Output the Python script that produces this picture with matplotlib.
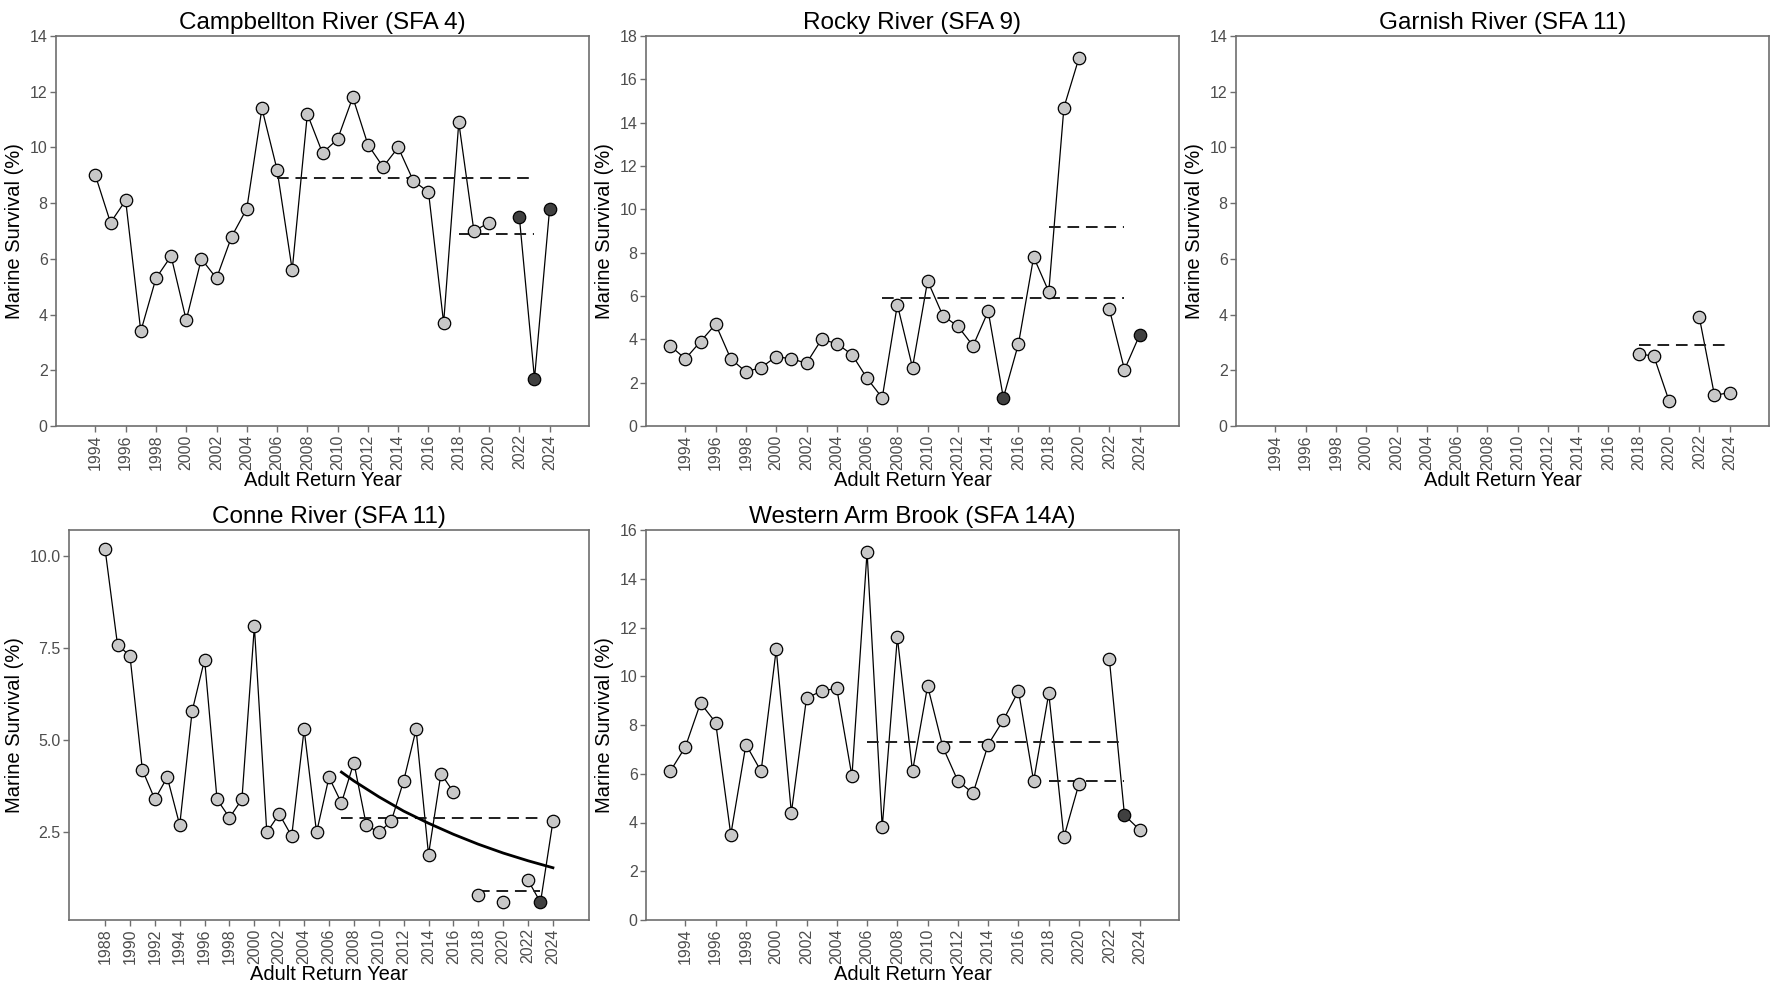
import numpy as np
import matplotlib
matplotlib.use("Agg")
import matplotlib.pyplot as plt

plt.rcParams['font.family'] = ['Liberation Sans', 'DejaVu Sans']

nan = np.nan

# Campbellton River (SFA 4)
camp_years = list(range(1994, 2025))
camp_surv = [9.0, 7.3, 8.1, 3.4, 5.3, 6.1, 3.8, 6.0, 5.3, 6.8, 7.8, 11.4, 9.2, 5.6,
             11.2, 9.8, 10.3, 11.8, 10.1, 9.3, 10.0, 8.8, 8.4, 3.7, 10.9, 7.0, 7.3,
             nan, 7.5, 1.7, 7.8]
camp_dark = [2022, 2023, 2024]
camp_ref_start = [2006, 2018]
camp_ref_end = [2023, 2023]
camp_ref_level = [8.9, 6.9]

# Rocky River (SFA 9)
rocky_years = list(range(1993, 2025))
rocky_surv = [3.7, 3.1, 3.9, 4.7, 3.1, 2.5, 2.7, 3.2, 3.1, 2.9, 4.0, 3.8, 3.3, 2.2,
              1.3, 5.6, 2.7, 6.7, 5.1, 4.6, 3.7, 5.3, 1.3, 3.8, 7.8, 6.2, 14.7, 17.0,
              nan, 5.4, 2.6, 4.2]
rocky_dark = [2015, 2024]
rocky_ref_start = [2007, 2018]
rocky_ref_end = [2023, 2023]
rocky_ref_level = [5.9, 9.2]

# Garnish River (SFA 11)
garn_years = list(range(2018, 2025))
garn_surv = [2.6, 2.5, 0.9, nan, 3.9, 1.1, 1.2]
garn_dark = []
garn_ref_start = [2018]
garn_ref_end = [2024]
garn_ref_level = [2.9]

# Conne River (SFA 11)
conne_years = list(range(1988, 2025))
conne_surv = [10.2, 7.6, 7.3, 4.2, 3.4, 4.0, 2.7, 5.8, 7.2, 3.4, 2.9, 3.4, 8.1, 2.5,
              3.0, 2.4, 5.3, 2.5, 4.0, 3.3, 4.4, 2.7, 2.5, 2.8, 3.9, 5.3, 1.9, 4.1,
              3.6, nan, 0.8, nan, 0.6, nan, 1.2, 0.6, 2.8]
conne_dark = [2023]
conne_ref_start = [2007, 2018]
conne_ref_end = [2023, 2023]
conne_ref_level = [2.9, 0.9]
conne_trend_years = [2007, 2008, 2010, 2012, 2014, 2016, 2018, 2020, 2022, 2024]
conne_trend_vals = [4.14, 3.90, 3.47, 3.08, 2.75, 2.45, 2.18, 1.94, 1.73, 1.54]

# Western Arm Brook (SFA 14A)
wab_years = list(range(1993, 2025))
wab_surv = [6.1, 7.1, 8.9, 8.1, 3.5, 7.2, 6.1, 11.1, 4.4, 9.1, 9.4, 9.5, 5.9, 15.1,
            3.8, 11.6, 6.1, 9.6, 7.1, 5.7, 5.2, 7.2, 8.2, 9.4, 5.7, 9.3, 3.4, 5.6,
            nan, 10.7, 4.3, 3.7]
wab_dark = [2023]
wab_ref_start = [2006, 2018]
wab_ref_end = [2023, 2023]
wab_ref_level = [7.3, 5.7]

W, H = 1775, 982
fig = plt.figure(figsize=(W / 100, H / 100), dpi=100)

FRAME = '#6e6e6e'
TICKC = '#4d4d4d'


def add_ax(left, right, top, bottom):
    return fig.add_axes([left / W, 1 - bottom / H, (right - left) / W, (bottom - top) / H])


def panel(ax, title, years, surv, dark, rs, re, rl, xlim, xticks, ylim, yticks, yticklabels=None):
    years = np.array(years)
    surv = np.array(surv, dtype=float)
    ax.plot(years, surv, color='black', lw=0.9, zorder=2)
    for a, b, lev in zip(rs, re, rl):
        ax.plot([a, b], [lev, lev], color='#1e1e1e', lw=1.4, ls=(0, (6, 3.5)), zorder=3)
    ok = ~np.isnan(surv)
    isdark = np.isin(years, dark)
    ax.scatter(years[ok & ~isdark], surv[ok & ~isdark], s=80, c='#c8c8c8',
               edgecolors='black', linewidths=0.9, zorder=4)
    ax.scatter(years[ok & isdark], surv[ok & isdark], s=80, c='#404040',
               edgecolors='black', linewidths=0.9, zorder=4)
    ax.set_xlim(*xlim)
    ax.set_ylim(*ylim)
    ax.set_xticks(xticks)
    ax.set_xticklabels([str(t) for t in xticks], rotation=90)
    ax.set_yticks(yticks)
    if yticklabels is not None:
        ax.set_yticklabels(yticklabels)
    ax.tick_params(axis='both', colors=FRAME, labelcolor=TICKC, labelsize=11.5,
                   length=4, width=1, pad=2)
    for sp in ax.spines.values():
        sp.set_color(FRAME)
        sp.set_linewidth(1.2)
    ax.set_title(title, fontsize=17.5, pad=5)
    ax.set_xlabel('Adult Return Year', fontsize=14.5, labelpad=1)
    ax.set_ylabel('Marine Survival (%)', fontsize=14.5, labelpad=4)


xl = (1991.4, 2026.6)
xt = list(range(1994, 2025, 2))

ax1 = add_ax(56, 589, 36, 426)
panel(ax1, 'Campbellton River (SFA 4)', camp_years, camp_surv, camp_dark,
      camp_ref_start, camp_ref_end, camp_ref_level, xl, xt, (0, 14), range(0, 15, 2))

ax2 = add_ax(646, 1179, 36, 426)
panel(ax2, 'Rocky River (SFA 9)', rocky_years, rocky_surv, rocky_dark,
      rocky_ref_start, rocky_ref_end, rocky_ref_level, xl, xt, (0, 18), range(0, 19, 2))

ax3 = add_ax(1236, 1769, 36, 426)
panel(ax3, 'Garnish River (SFA 11)', garn_years, garn_surv, garn_dark,
      garn_ref_start, garn_ref_end, garn_ref_level, xl, xt, (0, 14), range(0, 15, 2))

ax4 = add_ax(69, 589, 530, 920)
panel(ax4, 'Conne River (SFA 11)', conne_years, conne_surv, conne_dark,
      conne_ref_start, conne_ref_end, conne_ref_level, (1985.1, 2026.9),
      list(range(1988, 2025, 2)), (0.12, 10.72), [2.5, 5.0, 7.5, 10.0],
      ['2.5', '5.0', '7.5', '10.0'])
ax4.plot(conne_trend_years, conne_trend_vals, color='black', lw=2.0, zorder=3.5)

ax5 = add_ax(646, 1179, 530, 920)
panel(ax5, 'Western Arm Brook (SFA 14A)', wab_years, wab_surv, wab_dark,
      wab_ref_start, wab_ref_end, wab_ref_level, xl, xt, (0, 16), range(0, 17, 2))

fig.savefig('out.png', dpi=100)
